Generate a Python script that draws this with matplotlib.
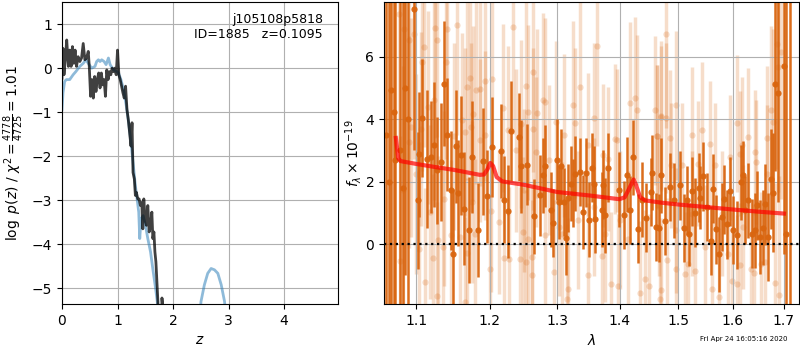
import matplotlib
matplotlib.use("Agg")
import matplotlib.pyplot as plt
import numpy as np

# ---- p(z) panel
z_chi = [0.000, 0.018, 0.036, 0.061, 0.085, 0.115, 0.139, 0.164, 0.188, 0.212,
         0.236, 0.261, 0.291, 0.321, 0.352, 0.382, 0.412, 0.442, 0.473, 0.491,
         0.515, 0.539, 0.564, 0.588, 0.612, 0.636, 0.661, 0.685, 0.709, 0.733,
         0.758, 0.782, 0.806, 0.830, 0.855, 0.879, 0.903, 0.927, 0.952, 0.976,
         1.000, 1.024, 1.048, 1.073, 1.097, 1.121, 1.145, 1.170, 1.194, 1.218,
         1.242, 1.261, 1.279, 1.303, 1.321, 1.339, 1.364, 1.388, 1.412, 1.436,
         1.455, 1.473, 1.497, 1.521, 1.545, 1.570, 1.594, 1.618, 1.636, 1.655,
         1.673, 1.691, 1.709, 1.727, 1.745, 1.790, 1.800, 1.810, 1.825]
logp_chi = [-0.23, 0.45, -0.15, 0.23, 0.64, 0.04, 0.41, 0.04, 0.49, 0.11,
            0.41, 0.04, 0.26, 0.15, 0.23, 0.56, 0.19, 0.23, 0.38, 0.04,
            -0.64, -0.26, -0.68, -0.19, -0.53, -0.26, -0.11, -0.45, -0.11, -0.38,
            -0.26, -0.64, -0.04, -0.26, -0.08, -0.15, 0.00, -0.08, 0.00, -0.15,
            0.41, -0.15, -0.26, -0.41, -0.56, -0.68, -0.41, -0.94, -1.17, -1.47,
            -1.77, -1.24, -2.37, -2.52, -2.89, -2.82, -2.97, -2.97, -3.12, -3.05,
            -3.65, -2.97, -3.42, -3.57, -3.12, -3.72, -3.57, -3.27, -3.87, -3.72,
            -4.17, -4.40, -4.85, -5.30, -6.00, -6.00, -5.22, -5.35, -6.00]

z_prior = [0.000, 0.018, 0.048, 0.079, 0.139, 0.200, 0.248, 0.321, 0.382, 0.430,
           0.473, 0.533, 0.594, 0.624, 0.655, 0.685, 0.715, 0.758, 0.794, 0.836,
           0.867, 0.927, 0.988, 1.018, 1.061, 1.109, 1.158, 1.200, 1.242, 1.279,
           1.321, 1.352, 1.382, 1.400, 1.424, 1.461, 1.503, 1.545, 1.594, 1.642,
           1.685, 1.715, 1.760, 2.100, 2.460, 2.503, 2.564, 2.624, 2.685, 2.745,
           2.806, 2.867, 2.927, 2.970]
logp_prior = [-0.94, -0.56, -0.30, -0.26, -0.26, -0.15, -0.08, 0.04, 0.11, 0.19,
              0.11, 0.00, 0.04, 0.15, 0.19, 0.15, 0.19, 0.15, 0.08, 0.23,
              0.08, -0.04, -0.08, -0.11, -0.26, -0.49, -0.86, -1.24, -1.69, -2.14,
              -2.67, -2.97, -3.27, -3.87, -3.42, -3.35, -3.57, -3.87, -4.17, -4.62,
              -5.00, -5.30, -6.00, -8.00, -6.00, -5.30, -4.92, -4.66, -4.55, -4.58,
              -4.66, -4.92, -5.30, -6.00]

# ---- spectrum panel (flux in 1e-19)
dark_wave = [1.062, 1.065, 1.068, 1.072, 1.073, 1.079, 1.083, 1.086, 1.090, 1.097,
             1.102, 1.104, 1.108, 1.114, 1.119, 1.123, 1.127, 1.133, 1.137, 1.141,
             1.146, 1.149, 1.153, 1.156, 1.160, 1.164, 1.171, 1.175, 1.184, 1.191,
             1.196, 1.204, 1.216, 1.220, 1.227, 1.231, 1.243, 1.245, 1.254, 1.264,
             1.274, 1.279, 1.282, 1.290, 1.294, 1.299, 1.303, 1.306, 1.311, 1.314,
             1.317, 1.322, 1.324, 1.328, 1.335, 1.341, 1.345, 1.350, 1.354, 1.357,
             1.360, 1.370, 1.373, 1.376, 1.381, 1.399, 1.407, 1.412, 1.417, 1.422,
             1.430, 1.437, 1.444, 1.453, 1.454, 1.461, 1.466, 1.470, 1.476, 1.486,
             1.492, 1.503, 1.511, 1.515, 1.520, 1.525, 1.530, 1.537, 1.539, 1.545,
             1.552, 1.560, 1.564, 1.569, 1.575, 1.580, 1.584, 1.589, 1.594, 1.601,
             1.608, 1.615, 1.620, 1.623, 1.629, 1.636, 1.642, 1.647, 1.653, 1.658,
             1.663, 1.669, 1.675, 1.679, 1.683, 1.689, 1.701, 1.704, 1.712]
dark_flux = [3.50, 2.00, 4.94, 4.24, 2.70, 3.00, 1.80, 5.00, 4.00, 7.53,
             1.40, 2.88, 4.04, 2.73, 2.79, 3.19, 2.36, 2.63, 5.13, 3.51,
             1.72, -0.32, 3.13, 1.65, 2.84, 1.14, 0.45, 2.79, 0.45, 2.65,
             1.53, 3.11, 2.98, 1.43, 1.05, 3.62, 3.43, 2.49, 2.55, 0.89,
             1.56, 2.20, 2.50, 1.11, 0.68, 2.70, 1.35, 2.50, 1.35, 0.21,
             1.48, 1.94, 1.64, 2.26, 2.31, 1.03, 2.29, 0.79, 2.45, 1.94,
             0.82, 1.11, 1.91, 0.93, 2.45, 1.74, 0.93, 2.23, 1.09, 2.79,
             0.50, 1.43, 0.85, 1.67, 2.28, 0.55, 0.52, 2.20, 0.74, 1.83,
             1.40, 1.88, 0.52, 1.40, 0.31, 1.69, 1.01, 1.81, 1.49, 2.17,
             1.19, 0.11, 1.78, 0.47, -0.32, 0.87, 1.44, 0.64, 1.69, 0.45,
             0.29, 1.99, 2.20, 1.09, 1.40, 0.34, 0.45, 1.24, 0.23, 0.52,
             1.28, 0.23, 2.10, 1.65, 5.13, 4.84, 5.70, 0.31, 8.50]
dark_err = [10.0, 10.0, 9.0, 9.0, 8.0, 7.0, 8.0, 6.0, 6.0, 4.5,
            2.2, 2.0, 1.9, 2.2, 1.8, 2.0, 1.7, 1.9, 2.0, 1.8,
            1.9, 2.1, 1.8, 1.7, 1.9, 1.8, 1.7, 1.8, 1.5, 1.7,
            1.5, 1.6, 1.5, 1.4, 1.5, 1.6, 1.4, 1.5, 1.3, 1.2,
            1.3, 1.2, 1.3, 1.2, 1.1, 1.3, 1.2, 1.2, 1.1, 1.2,
            1.1, 1.2, 1.1, 1.2, 1.1, 1.2, 1.1, 1.2, 1.1, 1.2,
            1.1, 1.2, 1.1, 1.2, 1.1, 1.2, 1.1, 1.2, 1.1, 1.2,
            1.1, 1.2, 1.1, 1.1, 1.2, 1.1, 1.1, 1.2, 1.1, 1.1,
            1.2, 1.1, 1.1, 1.1, 1.0, 1.1, 1.1, 1.1, 1.0, 1.1,
            1.1, 1.1, 1.1, 1.1, 1.2, 1.1, 1.1, 1.1, 1.1, 1.1,
            1.1, 1.2, 1.1, 1.1, 1.2, 1.1, 1.2, 1.1, 1.2, 1.2,
            1.3, 1.4, 1.6, 1.9, 2.8, 3.5, 6.0, 8.0, 11.0]

light_wave = [1.078, 1.079, 1.083, 1.084, 1.091, 1.091, 1.093, 1.097, 1.100, 1.104,
              1.106, 1.108, 1.110, 1.111, 1.115, 1.118, 1.122, 1.124, 1.125, 1.127,
              1.127, 1.129, 1.136, 1.137, 1.139, 1.141, 1.146, 1.151, 1.154, 1.159,
              1.161, 1.165, 1.165, 1.168, 1.168, 1.172, 1.174, 1.175, 1.176, 1.179,
              1.181, 1.186, 1.187, 1.193, 1.193, 1.200, 1.202, 1.203, 1.214, 1.219,
              1.221, 1.226, 1.228, 1.233, 1.238, 1.244, 1.245, 1.249, 1.250, 1.253,
              1.253, 1.256, 1.256, 1.261, 1.261, 1.263, 1.263, 1.268, 1.269, 1.279,
              1.282, 1.282, 1.288, 1.295, 1.298, 1.302, 1.308, 1.310, 1.315, 1.316,
              1.325, 1.327, 1.333, 1.336, 1.348, 1.348, 1.357, 1.357, 1.362, 1.370,
              1.373, 1.376, 1.381, 1.386, 1.392, 1.396, 1.397, 1.400, 1.413, 1.417,
              1.425, 1.428, 1.434, 1.443, 1.449, 1.459, 1.463, 1.463, 1.466, 1.468,
              1.469, 1.470, 1.470, 1.478, 1.478, 1.481, 1.485, 1.488, 1.497, 1.497,
              1.497, 1.506, 1.513, 1.518, 1.524, 1.525, 1.530, 1.535, 1.542, 1.548,
              1.557, 1.562, 1.567, 1.575, 1.579, 1.592, 1.594, 1.598, 1.608, 1.608,
              1.613, 1.614, 1.617, 1.620, 1.629, 1.635, 1.640, 1.642, 1.645, 1.654,
              1.663, 1.667, 1.667, 1.674, 1.679, 1.682, 1.686, 1.689, 1.690, 1.695]
light_flux = [7.36, -0.53, 1.72, 6.88, 6.53, 3.27, 3.74, 6.74, 2.26, -0.14,
              3.69, 5.84, 6.30, -1.20, 4.38, 1.03, -0.44, 4.60, 6.91, 6.53,
              -1.66, 0.13, -0.09, 1.46, 5.82, 6.88, 0.29, 3.45, 7.01, 0.23,
              3.96, 3.59, -1.84, 5.04, -0.27, 5.32, 3.74, 1.35, 4.17, 0.34,
              4.94, 3.32, 4.97, 5.21, 3.48, -0.78, 1.06, 5.29, 0.71, 4.36,
              -0.44, 3.64, -0.46, 6.94, 3.00, -0.46, 3.85, 0.39, 1.72, 5.07,
              -0.56, 4.22, 0.18, -0.40, -0.99, 5.50, 3.69, 2.95, 4.19, 4.60,
              4.54, 0.29, 2.68, -0.88, 3.90, 0.55, 0.34, 3.48, -1.76, -1.45,
              4.44, 3.87, 0.77, 5.04, 3.19, -0.99, 4.04, 1.19, 6.35, -0.38,
              2.84, 0.34, 2.73, -1.26, 3.37, 3.32, -1.34, 0.77, 0.15, 4.51,
              4.68, 4.30, -1.55, -1.10, -1.34, 4.28, 3.45, 3.45, 1.19, -1.77,
              4.06, 4.09, -1.47, 6.72, 4.04, -0.51, 3.39, 2.52, 4.44, -0.78,
              0.45, 2.52, -0.96, -0.62, 0.98, 3.48, -0.85, 2.57, 3.64, -0.09,
              3.21, -1.45, 2.52, -1.68, 0.98, -0.30, 2.79, -1.17, 3.87, -1.28,
              2.89, -0.67, 3.16, 0.55, 3.43, -0.78, -0.91, 2.95, 2.63, -0.62,
              -0.56, 3.40, 2.26, 4.28, 3.90, -1.23, 6.40, 5.66, -1.63, 6.14]
light_err = [4.7, 4.0, 4.0, 4.3, 3.8, 3.4, 3.5, 4.0, 3.2, 3.4,
             3.1, 3.5, 3.2, 3.0, 3.1, 2.8, 2.7, 3.2, 3.5, 3.1,
             3.0, 2.7, 2.6, 2.8, 3.1, 3.4, 2.4, 3.0, 3.5, 2.6,
             2.8, 2.7, 2.7, 3.0, 2.4, 3.1, 2.7, 2.6, 2.8, 2.4,
             3.0, 2.6, 3.1, 3.2, 2.7, 2.4, 2.6, 3.0, 2.3, 2.7,
             2.4, 2.7, 2.3, 3.4, 2.6, 2.3, 2.7, 2.4, 2.6, 3.1,
             2.3, 2.8, 2.4, 2.3, 2.4, 3.2, 2.6, 2.4, 2.7, 2.8,
             2.7, 2.3, 2.4, 2.3, 2.6, 2.2, 2.3, 2.6, 2.4, 2.3,
             2.7, 2.4, 2.2, 2.8, 2.3, 2.3, 2.4, 2.2, 3.2, 2.2,
             2.3, 2.2, 2.3, 2.3, 2.4, 2.3, 2.3, 2.2, 2.2, 2.6,
             2.6, 2.4, 2.3, 2.2, 2.3, 2.4, 2.3, 2.3, 2.2, 2.4,
             2.3, 2.4, 2.3, 3.0, 2.4, 2.0, 2.2, 2.0, 2.4, 2.0,
             2.0, 2.0, 2.0, 2.0, 2.0, 2.2, 2.0, 2.0, 2.2, 2.0,
             2.0, 2.2, 2.0, 2.2, 2.0, 2.0, 2.0, 2.2, 2.2, 2.2,
             2.0, 2.0, 2.2, 2.0, 2.2, 2.2, 2.2, 2.0, 2.0, 2.3,
             2.3, 2.3, 2.2, 2.7, 3.0, 3.2, 4.0, 4.0, 3.8, 4.7]

model_wave = [1.074, 1.077, 1.080, 1.100, 1.125, 1.150, 1.186, 1.192, 1.197, 1.201,
              1.205, 1.210, 1.218, 1.250, 1.300, 1.350, 1.399, 1.408, 1.416, 1.423,
              1.427, 1.434, 1.443, 1.470, 1.500, 1.550, 1.600, 1.650, 1.700]
model_flux = [3.40, 2.75, 2.66, 2.57, 2.47, 2.38, 2.22, 2.23, 2.40, 2.60,
              2.50, 2.15, 2.01, 1.90, 1.67, 1.56, 1.44, 1.50, 1.80, 2.07,
              1.90, 1.50, 1.40, 1.33, 1.27, 1.19, 1.11, 1.04, 0.98]

wave_ticks = [1.1, 1.2, 1.3, 1.4, 1.5, 1.6, 1.7]

fig = plt.figure(figsize=(8, 3.5), dpi=100)

# p(z)
ax1 = fig.add_axes([0.0775, 0.131, 0.345, 0.863])
ax1.plot(z_prior, logp_prior, color="#1f77b4", alpha=0.5, lw=2)
ax1.plot(z_chi, logp_chi, color="k", alpha=0.75, lw=2)
ax1.set_xlim(0, 4.97)
ax1.set_ylim(-5.36, 1.5)
ax1.set_xticks([0, 1, 2, 3, 4])
ax1.set_yticks([-5, -4, -3, -2, -1, 0, 1])
ax1.grid(True)
ax1.set_xlabel("$z$")
ax1.set_ylabel(r"$\log\ p(z)$ / $\chi^2=\frac{4778}{4725}=1.01$")
ax1.text(0.945, 0.965, "j105108p5818\nID=1885   z=0.1095", transform=ax1.transAxes,
         ha="right", va="top", fontsize=9)

# spectrum
ax2 = fig.add_axes([0.48, 0.131, 0.519, 0.863])
col = "#d9650f"
ax2.errorbar(light_wave, light_flux, yerr=light_err, fmt="o", color=col, ms=4.5,
             lw=2.5, alpha=0.22, mew=0, zorder=1)
ax2.errorbar(dark_wave, dark_flux, yerr=dark_err, fmt="o", color=col, ms=4.5,
             lw=1.8, alpha=0.95, mew=0, zorder=2)
ax2.plot(model_wave, model_flux, color="red", lw=3, alpha=0.7, zorder=3)
ax2.axhline(0, color="k", ls=":", lw=1.6, zorder=4)
ax2.set_xscale("log")
ax2.set_xlim(1.059, 1.731)
ax2.set_ylim(-1.92, 7.75)
ax2.set_xticks(wave_ticks)
ax2.set_xticklabels([str(t) for t in wave_ticks])
ax2.xaxis.set_minor_locator(matplotlib.ticker.NullLocator())
ax2.set_yticks([0, 2, 4, 6])
ax2.grid(True)
ax2.set_xlabel(r"$\lambda$")
ax2.set_ylabel(r"$f_\lambda\times10^{-19}$", labelpad=1)

fig.text(0.985, 0.022, "Fri Apr 24 16:05:16 2020", ha="right", va="bottom", fontsize=5)

fig.savefig("out.png", dpi=100)
